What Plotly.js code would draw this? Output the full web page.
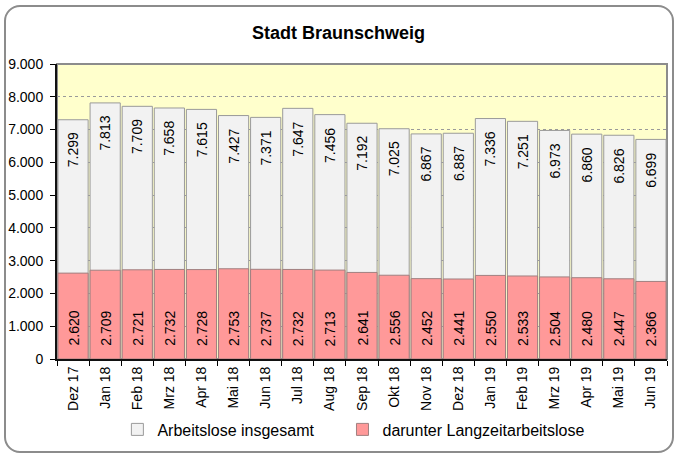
<!DOCTYPE html>
<html>
<head>
<meta charset="utf-8">
<script src="https://cdn.plot.ly/plotly-3.0.1.min.js"></script>
<style>
  html, body { margin: 0; padding: 0; background: #fff; }
  #wrap { position: relative; width: 677px; height: 457px; }
  #chart { position: absolute; left: 0; top: 0; width: 677px; height: 457px; }
  #frame { position: absolute; left: 4px; top: 5px; width: 666px; height: 444px;
           border: 2px solid #8c8c8c; border-radius: 16px; pointer-events: none; }
</style>
</head>
<body>
<div id="wrap">
  <div id="chart"></div>
  <div id="frame"></div>
</div>
<script>
const categories = ["Dez 17","Jan 18","Feb 18","Mrz 18","Apr 18","Mai 18","Jun 18","Jul 18","Aug 18","Sep 18","Okt 18","Nov 18","Dez 18","Jan 19","Feb 19","Mrz 19","Apr 19","Mai 19","Jun 19"];
const totalValues = [7299,7813,7709,7658,7615,7427,7371,7647,7456,7192,7025,6867,6887,7336,7251,6973,6860,6826,6699];
const longTermValues = [2620,2709,2721,2732,2728,2753,2737,2732,2713,2641,2556,2452,2441,2550,2533,2504,2480,2447,2366];
const seriesNames = ["Arbeitslose insgesamt", "darunter Langzeitarbeitslose"];
const yTickValues = [0,1000,2000,3000,4000,5000,6000,7000,8000,9000];

function fmt(v) {
  return String(v).replace(/\B(?=(\d{3})+(?!\d))/g, ".");
}

const FONT = "Arial, 'Liberation Sans', sans-serif";

const traces = [
  {
    type: "bar", name: seriesNames[0], x: categories, y: totalValues,
    marker: { color: "#F2F2F2", line: { color: "#9a9a9a", width: 1 } },
    hoverinfo: "skip", legend: "legend"
  },
  {
    type: "bar", name: seriesNames[1], x: categories, y: longTermValues,
    marker: { color: "#FF9999", line: { color: "#a08080", width: 1 } },
    hoverinfo: "skip", legend: "legend2"
  }
];

const annotations = [];
categories.forEach((c, i) => {
  annotations.push({
    x: c, y: totalValues[i], xref: "x", yref: "y",
    text: fmt(totalValues[i]), showarrow: false, textangle: -90,
    xanchor: "center", yanchor: "top", yshift: -11,
    font: { family: FONT, size: 14, color: "#000" }
  });
  annotations.push({
    x: c, y: 0, xref: "x", yref: "y",
    text: fmt(longTermValues[i]), showarrow: false, textangle: -90,
    xanchor: "center", yanchor: "bottom", yshift: 11,
    font: { family: FONT, size: 14, color: "#000" }
  });
});

const legendStyle = {
  orientation: "h", xanchor: "left", y: -0.239, yanchor: "middle",
  font: { family: FONT, size: 16, color: "#000" },
  itemwidth: 30, bgcolor: "rgba(0,0,0,0)"
};

const layout = {
  width: 677, height: 457,
  margin: { l: 57, r: 10, t: 64, b: 92 },
  paper_bgcolor: "#ffffff",
  plot_bgcolor: "#FFFFCC",
  separators: ",.",
  barmode: "overlay",
  bargap: 0.06,
  title: {
    text: "<b>Stadt Braunschweig</b>",
    x: 0.5, xanchor: "center", y: 1 - 33 / 457, yanchor: "middle", yref: "container",
    font: { family: FONT, size: 18, color: "#000" }
  },
  xaxis: {
    type: "category",
    tickangle: -90,
    ticks: "outside", ticklen: 5, tickcolor: "#000", tickson: "boundaries",
    showline: true, linecolor: "#111", linewidth: 2,
    showgrid: false,
    tickfont: { family: FONT, size: 14, color: "#000" },
    fixedrange: true
  },
  yaxis: {
    range: [0, 9000],
    tickvals: yTickValues,
    tickformat: ",d",
    ticks: "outside", ticklen: 5, tickcolor: "#000",
    ticklabelstandoff: 4,
    showline: true, linecolor: "#111", linewidth: 2,
    showgrid: true, gridcolor: "#9a9a9a", gridwidth: 1, griddash: "dot",
    zeroline: false,
    tickfont: { family: FONT, size: 14, color: "#000" },
    fixedrange: true
  },
  shapes: [{
    type: "rect", xref: "paper", yref: "paper", x0: 0, x1: 1, y0: 0, y1: 1,
    line: { color: "#8c8c8c", width: 2 }, fillcolor: "rgba(0,0,0,0)", layer: "below"
  }],
  legend: Object.assign({}, legendStyle, { x: 0.099 }),
  legend2: Object.assign({}, legendStyle, { x: 0.468 }),
  annotations: annotations,
  showlegend: true
};

Plotly.newPlot("chart", traces, layout, { displayModeBar: false, staticPlot: true });
</script>
</body>
</html>
